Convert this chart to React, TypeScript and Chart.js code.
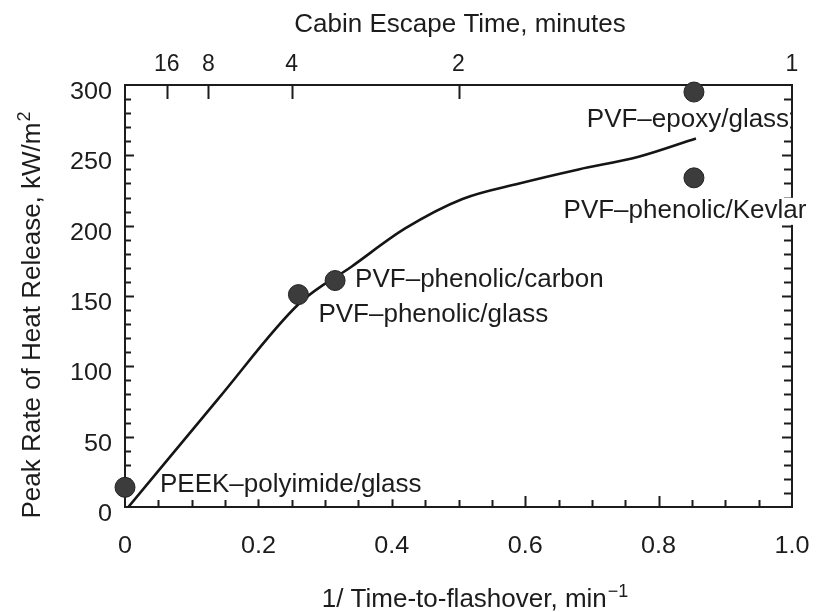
import React, { useEffect, useRef } from "react";
import { Chart, registerables } from "chart.js";

Chart.register(...registerables);

// ---- data ----
const materialNames = [
  "PEEK–polyimide/glass",
  "PVF–phenolic/glass",
  "PVF–phenolic/carbon",
  "PVF–epoxy/glass",
  "PVF–phenolic/Kevlar",
];
const materialX = [0, 0.26, 0.315, 0.853, 0.853];
const materialY = [14, 151, 161, 295, 234];

const curveX = [0.005, 0.14, 0.262, 0.34, 0.42, 0.506, 0.591, 0.68, 0.77, 0.856];
const curveY = [0, 77, 145, 171, 198, 219, 230, 240, 249, 262];

const xTicks = [0, 0.2, 0.4, 0.6, 0.8, 1.0];
const xTickLabels = ["0", "0.2", "0.4", "0.6", "0.8", "1.0"];
const yTicks = [0, 50, 100, 150, 200, 250, 300];
const escapeMinutes = [16, 8, 4, 2, 1];

// label styling: offset from point (px), alignment
const labelStyle = [
  { dx: 35, dy: 5, align: "left" },
  { dx: 20, dy: 27, align: "left" },
  { dx: 20, dy: 6.5, align: "left" },
  { dx: -6, dy: 35, align: "center" },
  { dx: -9, dy: 40, align: "center" },
];

const FONT_FAMILY = "'Liberation Sans', Arial, Helvetica, sans-serif";
const INK = "#1c1c1c";

function drawText(
  ctx: CanvasRenderingContext2D,
  s: string,
  x: number,
  y: number,
  align: CanvasTextAlign,
  size: number,
  sx = 1
) {
  ctx.save();
  ctx.font = `${size}px ${FONT_FAMILY}`;
  ctx.translate(x, y);
  ctx.scale(sx, 1);
  ctx.textAlign = align;
  ctx.textBaseline = "alphabetic";
  ctx.fillStyle = INK;
  ctx.fillText(s, 0, 0);
  ctx.restore();
}

const axesPlugin = {
  id: "paperAxes",
  beforeDatasetsDraw(chart: any) {
    const ctx: CanvasRenderingContext2D = chart.ctx;
    const { left, right, top, bottom } = chart.chartArea;
    const xs = chart.scales.x;
    const ys = chart.scales.y;
    ctx.save();
    ctx.strokeStyle = INK;
    ctx.lineWidth = 2;
    ctx.lineCap = "butt";

    // frame
    ctx.beginPath();
    ctx.moveTo(left, top);
    ctx.lineTo(right, top);
    ctx.lineTo(right, bottom);
    ctx.lineTo(left, bottom);
    ctx.closePath();
    ctx.stroke();

    // bottom ticks (inward), every 0.05, major every 0.2
    ctx.beginPath();
    for (let i = 1; i < 20; i++) {
      const v = i * 0.05;
      const px = Math.round(xs.getPixelForValue(v)) + 0.5;
      const len = i % 4 === 0 ? 11 : 7;
      ctx.moveTo(px, bottom);
      ctx.lineTo(px, bottom - len);
    }
    // left & right ticks every 10, major every 50
    for (let v = 10; v < 300; v += 10) {
      const py = Math.round(ys.getPixelForValue(v)) + 0.5;
      const major = v % 50 === 0;
      ctx.moveTo(left, py);
      ctx.lineTo(left + (major ? 9 : 6), py);
      ctx.moveTo(right, py);
      ctx.lineTo(right - (major ? 10 : 8), py);
    }
    // top ticks at escape times
    escapeMinutes.forEach((m) => {
      if (m === 1) return;
      const px = Math.round(xs.getPixelForValue(1 / m)) + 0.5;
      ctx.moveTo(px, top);
      ctx.lineTo(px, top + 14);
    });
    ctx.stroke();

    // tick labels
    xTicks.forEach((v, i) => {
      drawText(ctx, xTickLabels[i], xs.getPixelForValue(v), 553, "center", 24, 1.05);
    });
    yTicks.forEach((v) => {
      drawText(ctx, String(v), 112, ys.getPixelForValue(v) + 14, "right", 24, 1.05);
    });
    escapeMinutes.forEach((m) => {
      drawText(ctx, String(m), xs.getPixelForValue(1 / m), 71, "center", 23);
    });

    // top title
    drawText(ctx, "Cabin Escape Time, minutes", 460, 32, "center", 26);

    // bottom title with superscript
    ctx.save();
    ctx.fillStyle = INK;
    ctx.textBaseline = "alphabetic";
    ctx.textAlign = "left";
    ctx.font = `26px ${FONT_FAMILY}`;
    const bMain = "1/ Time-to-flashover, min";
    const w1 = ctx.measureText(bMain).width;
    ctx.font = `18px ${FONT_FAMILY}`;
    const bSup = "−1";
    const w2 = ctx.measureText(bSup).width;
    const bx = 475 - (w1 + w2 + 1) / 2;
    ctx.font = `26px ${FONT_FAMILY}`;
    ctx.fillText(bMain, bx, 607);
    ctx.font = `18px ${FONT_FAMILY}`;
    ctx.fillText(bSup, bx + w1 + 1, 597);
    ctx.restore();

    // y title rotated with superscript
    ctx.save();
    ctx.fillStyle = INK;
    ctx.translate(40, 315);
    ctx.rotate(-Math.PI / 2);
    ctx.textBaseline = "alphabetic";
    ctx.textAlign = "left";
    ctx.font = `26px ${FONT_FAMILY}`;
    const yMain = "Peak Rate of Heat Release, kW/m";
    const yw1 = ctx.measureText(yMain).width;
    ctx.font = `18px ${FONT_FAMILY}`;
    const yw2 = ctx.measureText("2").width;
    const yx = -(yw1 + yw2 + 1) / 2;
    ctx.font = `26px ${FONT_FAMILY}`;
    ctx.fillText(yMain, yx, 0);
    ctx.font = `18px ${FONT_FAMILY}`;
    ctx.fillText("2", yx + yw1 + 1, -10);
    ctx.restore();

    // point labels with white backing
    ctx.save();
    ctx.font = `26px ${FONT_FAMILY}`;
    materialNames.forEach((name, i) => {
      const st = labelStyle[i];
      const px = xs.getPixelForValue(materialX[i]) + st.dx;
      const py = ys.getPixelForValue(materialY[i]) + st.dy;
      const w = ctx.measureText(name).width;
      let x0 = px;
      if (st.align === "center") x0 = px - w / 2;
      ctx.fillStyle = "#ffffff";
      ctx.fillRect(x0 - 1, py - 20, w + 2, 27);
      ctx.fillStyle = INK;
      ctx.textAlign = st.align as CanvasTextAlign;
      ctx.textBaseline = "alphabetic";
      ctx.fillText(name, px, py);
    });
    ctx.restore();

    ctx.restore();
  },
};

export default function App() {
  const ref = useRef<HTMLCanvasElement | null>(null);

  useEffect(() => {
    const prevMargin = document.body.style.margin;
    document.body.style.margin = "0";
    const canvas = ref.current;
    if (!canvas) return;
    const chart = new Chart(canvas, {
      type: "scatter",
      data: {
        datasets: [
          {
            type: "line",
            data: curveX.map((x, i) => ({ x, y: curveY[i] })),
            borderColor: "#151515",
            borderWidth: 2.6,
            pointRadius: 0,
            cubicInterpolationMode: "monotone",
            fill: false,
            order: 2,
          } as any,
          {
            type: "scatter",
            data: materialX.map((x, i) => ({ x, y: materialY[i] })),
            pointRadius: 10,
            pointBackgroundColor: "#3c3c3c",
            pointBorderColor: "#222222",
            pointBorderWidth: 1,
            clip: false,
            order: 1,
          } as any,
        ],
      },
      options: {
        responsive: false,
        animation: false,
        devicePixelRatio: 1,
        events: [],
        layout: { padding: { left: 125, right: 25, top: 85, bottom: 105 } },
        scales: {
          x: { type: "linear", min: 0, max: 1, display: false },
          y: { type: "linear", min: 0, max: 300, display: false },
        },
        plugins: {
          legend: { display: false },
          tooltip: { enabled: false },
        },
      },
      plugins: [axesPlugin],
    });
    return () => {
      chart.destroy();
      document.body.style.margin = prevMargin;
    };
  }, []);

  return (
    <div style={{ position: "absolute", left: 0, top: 0, width: 817, height: 612, background: "#fff" }}>
      <canvas ref={ref} width={817} height={612} style={{ display: "block" }} />
    </div>
  );
}
